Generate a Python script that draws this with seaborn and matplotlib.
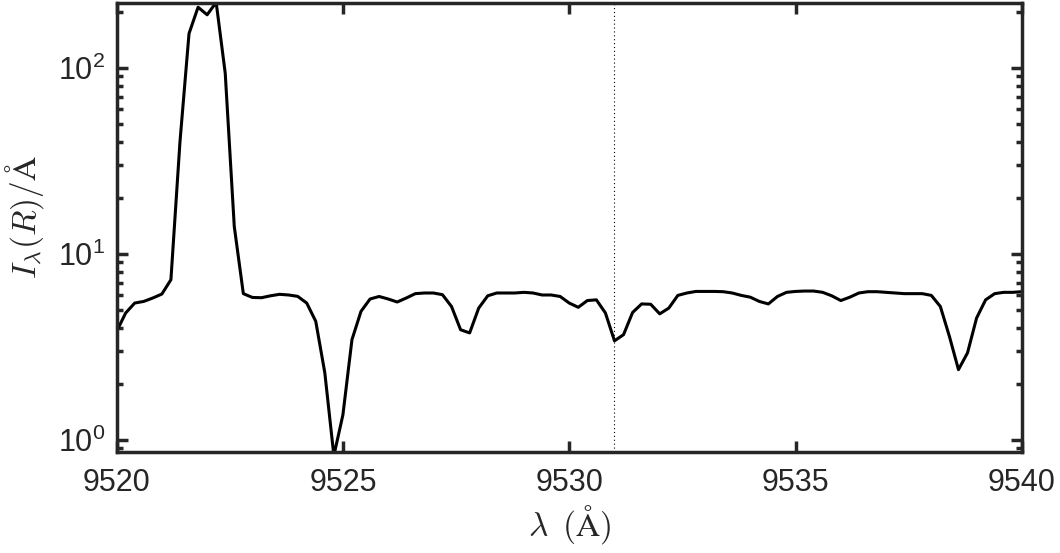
import numpy as np
import pandas as pd
import seaborn as sns
import matplotlib
matplotlib.use("Agg")
import matplotlib.pyplot as plt
from matplotlib.ticker import LogLocator, FixedLocator

# 파장 (Å), 0.2 Å 간격
wavelength = [
    9520.0, 9520.2, 9520.4, 9520.6, 9520.8, 9521.0, 9521.2, 9521.4, 9521.6, 9521.8,
    9522.0, 9522.2, 9522.4, 9522.6, 9522.8, 9523.0, 9523.2, 9523.4, 9523.6, 9523.8,
    9524.0, 9524.2, 9524.4, 9524.6, 9524.8, 9525.0, 9525.2, 9525.4, 9525.6, 9525.8,
    9526.0, 9526.2, 9526.4, 9526.6, 9526.8, 9527.0, 9527.2, 9527.4, 9527.6, 9527.8,
    9528.0, 9528.2, 9528.4, 9528.6, 9528.8, 9529.0, 9529.2, 9529.4, 9529.6, 9529.8,
    9530.0, 9530.2, 9530.4, 9530.6, 9530.8, 9531.0, 9531.2, 9531.4, 9531.6, 9531.8,
    9532.0, 9532.2, 9532.4, 9532.6, 9532.8, 9533.0, 9533.2, 9533.4, 9533.6, 9533.8,
    9534.0, 9534.2, 9534.4, 9534.6, 9534.8, 9535.0, 9535.2, 9535.4, 9535.6, 9535.8,
    9536.0, 9536.2, 9536.4, 9536.6, 9536.8, 9537.0, 9537.2, 9537.4, 9537.6, 9537.8,
    9538.0, 9538.2, 9538.4, 9538.6, 9538.8, 9539.0, 9539.2, 9539.4, 9539.6, 9539.8,
    9540.0,
]

# 세기 I_lambda(R)/Å
intensity = [
    3.82, 4.80, 5.43, 5.54, 5.78, 6.07, 7.25, 40.0, 153.0, 212.0,
    193.0, 225.0, 93.6, 14.0, 6.10, 5.82, 5.80, 5.94, 6.05, 6.00,
    5.90, 5.43, 4.33, 2.29, 0.82, 1.36, 3.45, 4.90, 5.71, 5.89,
    5.71, 5.50, 5.78, 6.10, 6.15, 6.15, 6.02, 5.20, 3.90, 3.75,
    5.10, 5.94, 6.15, 6.15, 6.15, 6.20, 6.15, 6.00, 6.00, 5.89,
    5.43, 5.15, 5.60, 5.65, 4.80, 3.40, 3.67, 4.83, 5.37, 5.35,
    4.75, 5.10, 5.97, 6.15, 6.27, 6.27, 6.27, 6.25, 6.15, 5.97,
    5.84, 5.54, 5.37, 5.89, 6.20, 6.27, 6.30, 6.30, 6.20, 5.94,
    5.60, 5.84, 6.15, 6.25, 6.25, 6.20, 6.15, 6.10, 6.10, 6.10,
    5.97, 5.20, 3.59, 2.38, 2.93, 4.51, 5.65, 6.10, 6.20, 6.20,
    6.25,
]

marker_wavelength = 9531.0
x_ticks = [9520, 9525, 9530, 9535, 9540]


def main():
    sns.set_style("ticks")
    plt.rcParams["font.family"] = ["Liberation Sans", "DejaVu Sans"]
    plt.rcParams["mathtext.fontset"] = "cm"

    df = pd.DataFrame({"wavelength": wavelength, "intensity": intensity})

    fig = plt.figure(figsize=(10.6, 5.53), dpi=100)
    ax = fig.add_axes([0.110, 0.183, 0.854, 0.812])

    sns.lineplot(data=df, x="wavelength", y="intensity", color="black", linewidth=2.2, ax=ax)
    ax.axvline(marker_wavelength, color="black", linestyle=(0, (1, 2.5)), linewidth=0.8)

    ax.set_yscale("log")
    ax.set_xlim(9520, 9540)
    ax.set_ylim(0.86, 224)
    ax.xaxis.set_major_locator(FixedLocator(x_ticks))
    ax.xaxis.set_minor_locator(FixedLocator([]))
    ax.yaxis.set_major_locator(LogLocator(base=10))
    ax.yaxis.set_minor_locator(LogLocator(base=10, subs=np.arange(2, 10)))

    # MATLAB 스타일 축
    for spine in ax.spines.values():
        spine.set_visible(True)
        spine.set_linewidth(2.5)
        spine.set_color("#262626")
    ax.tick_params(which="both", direction="in", top=True, right=True,
                   color="#262626", width=2.5, labelsize=22, labelcolor="#262626")
    ax.tick_params(which="major", length=8)
    ax.tick_params(which="minor", length=4.5)
    ax.tick_params(axis="x", pad=12)
    ax.tick_params(axis="y", pad=8)

    ax.set_xlabel(r"$\lambda\ \,(\mathrm{\AA})$", fontsize=24, color="#262626")
    ax.set_ylabel(r"$I_\lambda(R)/\mathrm{\AA}$", fontsize=24, color="#262626")
    ax.xaxis.set_label_coords(0.5, -0.115)
    ax.yaxis.set_label_coords(-0.078, 0.523)

    fig.savefig("out.png", dpi=100)


if __name__ == "__main__":
    main()
